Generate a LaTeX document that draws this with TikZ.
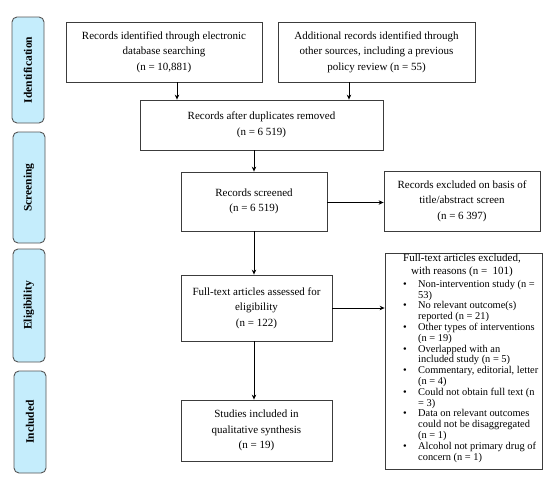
\documentclass[tikz,border=0pt]{standalone}
\usepackage{fontspec}
\setmainfont{Liberation Serif}
\usetikzlibrary{arrows.meta}
\definecolor{sidefill}{RGB}{197,237,252}
\definecolor{sideline}{RGB}{85,85,85}
\definecolor{boxline}{RGB}{60,60,60}
\begin{document}
\begin{tikzpicture}[x=1pt,y=-1pt,
  mainbox/.style={draw=boxline, line width=0.8pt, align=center, inner sep=2pt,
    font=\fontsize{11}{15.5}\selectfont},
  sidebox/.style={draw=sideline, fill=sidefill, line width=0.9pt, rounded corners=5pt,
    minimum width=32pt},
  sidetext/.style={rotate=90, font=\fontsize{11.5}{12}\selectfont\bfseries},
  arr/.style={-{Stealth[length=5pt,width=4.5pt]}, line width=0.8pt, black}]
\useasboundingbox (0,0) rectangle (550,485);
% side labels
\node[sidebox, minimum height=106pt] (sid) at (28,70) {};
\node[sidetext] (tid) at (sid.center) {Identification};
\node[sidebox, minimum height=111pt] (ssc) at (29,187.5) {};
\node[sidetext] (tsc) at (ssc.center) {Screening};
\node[sidebox, minimum height=113pt] (sel) at (29,305.5) {};
\node[sidetext] (tel) at (sel.center) {Eligibility};
\node[sidebox, minimum height=102pt] (sin) at (30,422) {};
\node[sidetext] (tin) at (sin.center) {Included};
% main boxes
\node[mainbox, minimum width=196pt, minimum height=60pt] (id1) at (164,52)
  {Records identified through electronic\\database searching\\(n = 10,881)};
\node[mainbox, minimum width=197pt, minimum height=60pt] (id2) at (376.5,52)
  {Additional records identified through\\other sources, including a previous\\policy review (n = 55)};
\node[mainbox, minimum width=243pt, minimum height=50pt] (dup) at (261.5,125)
  {Records after duplicates removed\\(n = 6 519)};
\node[mainbox, minimum width=146pt, minimum height=59pt] (scr) at (254,201.5)
  {Records screened\\(n = 6 519)};
\node[mainbox, minimum width=156pt, minimum height=60pt] (exc) at (462,201)
  {Records excluded on basis of\\title/abstract screen\\(n = 6 397)};
\node[mainbox, minimum width=151pt, minimum height=66pt] (full) at (256.5,308)
  {Full-text articles assessed for\\eligibility\\(n = 122)};
\node[mainbox, minimum width=151pt, minimum height=61pt] (stud) at (256.5,430.5)
  {Studies included in\\qualitative synthesis\\(n = 19)};
\node[draw=boxline, line width=0.8pt, minimum width=157pt, minimum height=216pt] (reas) at (463.5,361) {};
\node[anchor=north, align=center, inner sep=1pt, font=\fontsize{11}{12.5}\selectfont] (reash) at (462,253)
  {Full-text articles excluded,\\with reasons (n = \ 101)};
\node[anchor=north west, inner sep=0pt, font=\fontsize{10.4}{10.8}\selectfont] (reasl) at (403,279.5)
  {\begin{tabular}{@{}p{15pt}@{}l@{}}
  \textbullet & Non-intervention study (n =\\
   & 53)\\
  \textbullet & No relevant outcome(s)\\
   & reported (n = 21)\\
  \textbullet & Other types of interventions\\
   & (n = 19)\\
  \textbullet & Overlapped with an\\
   & included study (n = 5)\\
  \textbullet & Commentary, editorial, letter\\
   & (n = 4)\\
  \textbullet & Could not obtain full text (n\\
   & = 3)\\
  \textbullet & Data on relevant outcomes\\
   & could not be disaggregated\\
   & (n = 1)\\
  \textbullet & Alcohol not primary drug of\\
   & concern (n = 1)
  \end{tabular}};
% arrows
\draw[arr] ([xshift=13pt]id1.south) -- ([xshift=13pt]id1.south |- dup.north);
\draw[arr] ([xshift=-27.5pt]id2.south) -- ([xshift=-27.5pt]id2.south |- dup.north);
\draw[arr] ([xshift=-7.5pt]dup.south) -- ([xshift=-7.5pt]dup.south |- scr.north);
\draw[arr] ([yshift=-1pt]scr.east) -- ([yshift=-1pt]scr.east -| exc.west);
\draw[arr] (scr.south) -- (scr.south |- full.north);
\draw[arr] ([xshift=-2.5pt]full.south) -- ([xshift=-2.5pt]full.south |- stud.north);
\draw[arr] (full.east) -- (full.east -| reas.west);
\end{tikzpicture}
\end{document}
